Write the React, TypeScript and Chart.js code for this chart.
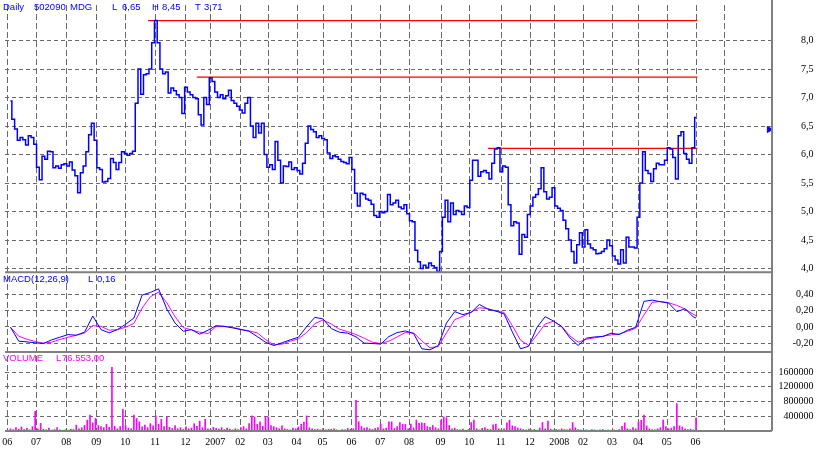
import React, { useEffect, useRef } from 'react';
import { Chart, registerables } from 'chart.js';

Chart.register(...registerables);

// ---- x axis: trading-day index, month starts ----
const X_MAX_DAY = 559.4;
const monthTickDays = [2, 23, 45, 67, 88, 110, 132, 150, 172, 192, 213, 232, 253, 274, 295, 318, 339, 362, 383, 401, 422, 443, 462, 483, 504, 525];
const monthTickLabels = ['06', '07', '08', '09', '10', '11', '12', '2007', '02', '03', '04', '05', '06', '07', '08', '09', '10', '11', '12', '2008', '02', '03', '04', '05', '06', ''];

// ---- y tick values ----
const priceTicks = [4.0, 4.5, 5.0, 5.5, 6.0, 6.5, 7.0, 7.5, 8.0];
const macdTicks = [-0.2, 0.0, 0.2, 0.4];
const volumeTicks = [400000, 800000, 1200000, 1600000];

// ---- price (closes, one value every 2 trading days from day 4) ----
const PRICE_FIRST_DAY = 4;
const PRICE_STEP = 2;
const priceCloses = [
  6.94, 6.62, 6.45, 6.25, 6.3, 6.26, 6.17, 6.33, 6.3, 6.18,
  5.78, 5.56, 5.97, 5.92, 6.06, 6.05, 5.77, 5.8, 5.76, 5.82,
  5.84, 5.8, 5.87, 5.73, 5.63, 5.33, 5.68, 5.8, 6.05, 6.35,
  6.55, 6.25, 5.77, 5.74, 5.52, 5.53, 5.58, 5.93, 5.86, 5.74,
  5.86, 6.05, 6.02, 5.99, 6.02, 6.06, 6.9, 7.5, 7.06, 7.4,
  7.42, 7.5, 7.96, 8.35, 7.96, 7.5, 7.42, 7.45, 7.08, 7.17,
  7.12, 7.05, 7.0, 6.72, 7.18, 7.1, 7.05, 7.0, 6.98, 6.7,
  6.52, 7.0, 6.88, 7.35, 7.28, 7.1, 7.0, 7.05, 6.98, 7.03,
  7.13, 6.95, 6.9, 6.85, 6.78, 6.73, 6.9, 7.0, 6.5, 6.3,
  6.55, 6.38, 6.55, 6.0, 5.78, 5.82, 5.74, 6.23, 5.9, 5.5,
  5.8, 5.79, 5.87, 5.74, 5.77, 5.72, 5.66, 5.85, 6.2, 6.5,
  6.44, 6.4, 6.3, 6.33, 6.28, 6.26, 6.03, 5.93, 5.98, 5.96,
  5.92, 5.88, 5.86, 5.84, 5.95, 5.74, 5.32, 5.1, 5.32, 5.3,
  5.22, 5.2, 5.13, 4.93, 4.9, 5.0, 4.98, 5.0, 5.3, 5.12,
  5.15, 5.2, 5.08, 5.05, 5.12, 4.96, 4.84, 4.82, 4.32, 4.12,
  4.0, 4.06, 4.02, 4.1, 4.05, 4.02, 3.95, 4.3, 4.9, 5.2,
  4.82, 5.15, 4.95, 5.02, 5.0, 4.95, 5.1, 5.07, 5.55, 5.9,
  5.9, 5.62, 5.7, 5.72, 5.68, 5.57, 5.85, 6.1, 6.12, 5.7,
  5.8, 5.78, 5.12, 4.75, 4.82, 4.8, 4.25, 4.6, 4.55, 4.95,
  5.1, 5.25, 5.3, 5.4, 5.77, 5.35, 5.22, 5.25, 5.42, 5.1,
  5.06, 5.02, 4.85, 4.7, 4.5, 4.3, 4.1, 4.42, 4.63, 4.38,
  4.68, 4.43, 4.36, 4.33, 4.26, 4.27, 4.3, 4.35, 4.5, 4.4,
  4.22, 4.15, 4.08, 4.33, 4.1, 4.55, 4.38, 4.38, 4.36, 4.9,
  5.5, 6.05, 5.72, 5.67, 5.53, 5.75, 5.85, 5.82, 5.82, 5.9,
  6.12, 6.1, 5.95, 5.57, 6.33, 6.4, 6.02, 5.92, 5.85, 6.12,
  6.65,
];

// ---- volume (same days as the price) ----
const volumes = [
  60000, 35000, 90000, 50000, 110000, 40000, 70000, 30000, 120000, 537000,
  60000, 206000, 45000, 30000, 80000, 25000, 40000, 90000, 35000, 20000,
  30000, 25000, 50000, 40000, 160000, 60000, 90000, 150000, 295000, 430000,
  220000, 340000, 150000, 120000, 90000, 180000, 100000, 1730000, 130000, 60000,
  120000, 590000, 150000, 80000, 60000, 430000, 340000, 250000, 110000, 160000,
  90000, 200000, 140000, 410000, 180000, 320000, 120000, 380000, 100000, 70000,
  150000, 60000, 90000, 40000, 110000, 60000, 80000, 200000, 130000, 270000,
  90000, 320000, 60000, 40000, 100000, 70000, 50000, 90000, 40000, 80000,
  50000, 30000, 60000, 40000, 90000, 120000, 60000, 200000, 410000, 380000,
  180000, 250000, 130000, 380000, 380000, 150000, 120000, 90000, 60000, 140000,
  60000, 40000, 30000, 80000, 60000, 110000, 180000, 240000, 410000, 90000,
  60000, 40000, 50000, 30000, 70000, 30000, 40000, 50000, 60000, 30000,
  20000, 40000, 30000, 70000, 50000, 60000, 830000, 250000, 120000, 80000,
  90000, 60000, 40000, 70000, 90000, 190000, 60000, 80000, 250000, 250000,
  70000, 120000, 230000, 180000, 180000, 60000, 190000, 80000, 300000, 210000,
  220000, 210000, 120000, 100000, 150000, 90000, 60000, 295000, 385000, 360000,
  150000, 60000, 80000, 40000, 30000, 50000, 20000, 40000, 230000, 295000,
  60000, 30000, 70000, 90000, 50000, 40000, 170000, 190000, 60000, 40000,
  60000, 220000, 295000, 140000, 120000, 80000, 60000, 40000, 30000, 50000,
  30000, 40000, 20000, 80000, 230000, 60000, 270000, 50000, 30000, 40000,
  30000, 60000, 40000, 30000, 60000, 230000, 90000, 40000, 30000, 20000,
  30000, 20000, 40000, 30000, 20000, 30000, 40000, 20000, 30000, 20000,
  30000, 20000, 40000, 130000, 220000, 60000, 40000, 90000, 60000, 250000,
  290000, 430000, 140000, 60000, 40000, 30000, 60000, 90000, 295000, 120000,
  60000, 80000, 120000, 742000, 140000, 110000, 60000, 40000, 50000, 30000,
  360000,
];

// ---- MACD(12,26,9), one value every 6 trading days from day 4 ----
const MACD_FIRST_DAY = 4;
const MACD_STEP = 6;
const MACD_LAST_DAY = 504;
const macdLine = [
  -0.004, -0.177, -0.186, -0.198, -0.206, -0.161, -0.128, -0.095, -0.103, -0.066,
  0.136, -0.033, -0.074, -0.033, 0.033, 0.111, 0.396, 0.429, 0.474, 0.223,
  0.049, -0.054, -0.033, -0.091, -0.041, 0.016, 0.008, -0.012, -0.033, -0.054,
  -0.12, -0.19, -0.231, -0.198, -0.161, -0.128, 0.004, 0.12, 0.099, -0.021,
  -0.066, -0.078, -0.124, -0.202, -0.206, -0.214, -0.12, -0.07, -0.05, -0.082,
  -0.272, -0.285, -0.231, 0.049, 0.19, 0.153, 0.181, 0.28, 0.223, 0.198,
  0.161, -0.062, -0.272, -0.239, -0.004, 0.128, 0.074, 0.004, -0.136, -0.231,
  -0.14, -0.124, -0.12, -0.078, -0.095, -0.041, -0.004, 0.318, 0.334, 0.313,
  0.297, 0.19, 0.227, 0.124, 0.111,
];
const signalLine = [
  -0.004, -0.115, -0.153, -0.181, -0.202, -0.19, -0.157, -0.128, -0.103, -0.074,
  0.016, 0.008, -0.041, -0.033, -0.004, 0.045, 0.235, 0.375, 0.433, 0.301,
  0.128, -0.008, -0.037, -0.066, -0.082, 0.004, 0.004, -0.004, -0.029, -0.049,
  -0.074, -0.157, -0.223, -0.214, -0.177, -0.148, -0.07, 0.041, 0.087, 0.037,
  -0.029, -0.058, -0.095, -0.14, -0.19, -0.206, -0.177, -0.124, -0.07, -0.074,
  -0.173, -0.26, -0.243, -0.074, 0.091, 0.132, 0.186, 0.239, 0.227, 0.198,
  0.181, 0.016, -0.165, -0.231, -0.099, 0.037, 0.07, 0.008, -0.111, -0.19,
  -0.153, -0.136, -0.115, -0.099, -0.087, -0.054, -0.016, 0.148, 0.305, 0.318,
  0.301, 0.268, 0.223, 0.157, 0.14,
];

// ---- horizontal resistance lines ----
const levelValues = [8.35, 7.36, 6.11];
const levelStartDays = [104.3, 139.9, 352.2];
const levelEndDay = 505;

// ---- last-price marker on the right ----
const markerDay = 557.3;
const markerValue = 6.44;

const fmtComma = (v: number, d: number) => v.toFixed(d).replace('.', ',');

const priceData = priceCloses.map((y, i) => ({ x: PRICE_FIRST_DAY + PRICE_STEP * i, y }));
const volumeData = volumes.map((y, i) => ({ x: PRICE_FIRST_DAY + PRICE_STEP * i, y }));
const macdDay = (i: number) => Math.min(MACD_FIRST_DAY + MACD_STEP * i, MACD_LAST_DAY);
const macdData = macdLine.map((y, i) => ({ x: macdDay(i), y }));
const signalData = signalLine.map((y, i) => ({ x: macdDay(i), y }));

const BLUE = '#0000ff';
const MAGENTA = '#ff00ff';
const GRID = '#6a6a6a';

const decorPlugin = {
  id: 'decor',
  afterDraw(chart: any) {
    const { ctx, chartArea } = chart;
    const sx = chart.scales.x;
    const sp = chart.scales.yPrice;
    const sm = chart.scales.yMacd;
    const sv = chart.scales.yVol;
    ctx.save();
    // panel frame
    ctx.strokeStyle = '#808080';
    ctx.lineWidth = 2;
    ctx.setLineDash([]);
    ctx.beginPath();
    ctx.moveTo(chartArea.right, 0);
    ctx.lineTo(chartArea.right, chartArea.bottom);
    for (const yy of [sm.top, sv.top, chartArea.bottom]) {
      ctx.moveTo(chartArea.left, yy);
      ctx.lineTo(chartArea.right, yy);
    }
    ctx.stroke();

    // right tick labels
    ctx.fillStyle = '#000';
    ctx.font = '10px "Liberation Serif", "Times New Roman", serif';
    ctx.textAlign = 'right';
    ctx.textBaseline = 'middle';
    for (const s of [sp, sm, sv]) {
      for (const t of s.ticks) {
        ctx.fillText(String(t.label), chart.width - 4.5, s.getPixelForValue(t.value));
      }
    }
    // bottom month labels
    ctx.textAlign = 'left';
    ctx.textBaseline = 'alphabetic';
    for (const t of sx.ticks) {
      if (t.label) ctx.fillText(String(t.label), sx.getPixelForValue(t.value) - 5.5, 444.5);
    }

    // panel captions
    ctx.font = '9.5px "Liberation Sans", Arial, sans-serif';
    ctx.fillStyle = BLUE;
    const head: [string, number][] = [
      ['Daily', 3], ['502090', 34], ['MDG', 70], ['L', 112], ['6,65', 122],
      ['H', 152], ['8,45', 162], ['T', 195], ['3,71', 204],
    ];
    for (const [txt, x] of head) ctx.fillText(txt, x, 9.5);
    const macdTop = sm.top;
    ctx.fillText('MACD(12,26,9)', 3, macdTop + 10);
    ctx.fillText('L', 88, macdTop + 10);
    ctx.fillText('0,16', 97, macdTop + 10);
    ctx.fillStyle = MAGENTA;
    const volTop = sv.top;
    ctx.fillText('VOLUME', 3, volTop + 9.5);
    ctx.fillText('L', 56, volTop + 9.5);
    ctx.fillText('76.553,00', 62, volTop + 9.5);
    ctx.restore();
  },
};

const yCommon = (weight: number) => ({
  type: 'linear' as const,
  position: 'right' as const,
  stack: 'panels',
  stackWeight: weight,
  offset: false,
  grid: { color: GRID, lineWidth: 1, drawTicks: false },
  border: { display: false, dash: [4, 3] },
  ticks: { display: false },
  afterFit: (s: any) => {
    s.width = 42;
    s.paddingTop = 0;
    s.paddingBottom = 0;
  },
});

export default function App() {
  const ref = useRef<HTMLCanvasElement | null>(null);
  useEffect(() => {
    if (!ref.current) return;
    const chart = new Chart(ref.current, {
      type: 'line',
      data: {
        datasets: [
          {
            label: 'MDG',
            data: priceData,
            yAxisID: 'yPrice',
            borderColor: BLUE,
            borderWidth: 1.5,
            stepped: 'middle',
            pointRadius: 0,
            fill: false,
          },
          ...levelValues.map((lv, i) => ({
            label: 'level' + i,
            data: [
              { x: levelStartDays[i], y: lv },
              { x: levelEndDay, y: lv },
            ],
            yAxisID: 'yPrice',
            borderColor: '#ff0000',
            borderWidth: 1.3,
            pointRadius: 0,
            fill: false,
          })),
          {
            label: 'last',
            data: [{ x: markerDay, y: markerValue }],
            yAxisID: 'yPrice',
            showLine: false,
            pointStyle: 'triangle',
            rotation: 90,
            pointRadius: 3.5,
            backgroundColor: BLUE,
            borderColor: BLUE,
            borderWidth: 1,
          },
          {
            label: 'MACD',
            data: macdData,
            yAxisID: 'yMacd',
            borderColor: BLUE,
            borderWidth: 1,
            pointRadius: 0,
            fill: false,
          },
          {
            label: 'Signal',
            data: signalData,
            yAxisID: 'yMacd',
            borderColor: MAGENTA,
            borderWidth: 1,
            pointRadius: 0,
            fill: false,
          },
          {
            type: 'bar',
            label: 'Volume',
            data: volumeData,
            yAxisID: 'yVol',
            backgroundColor: MAGENTA,
            borderWidth: 0,
            barThickness: 1,
          } as any,
        ],
      },
      options: {
        responsive: false,
        animation: false,
        events: [],
        layout: { padding: { left: 0, top: 0, right: 4, bottom: 0 } },
        plugins: {
          legend: { display: false },
          tooltip: { enabled: false },
          title: { display: false },
        },
        scales: {
          x: {
            type: 'linear',
            min: 0,
            max: X_MAX_DAY,
            offset: false,
            position: 'bottom',
            grid: { color: GRID, lineWidth: 1, drawTicks: false, offset: false },
            border: { display: false, dash: [6, 3] },
            ticks: {
              display: false,
              autoSkip: false,
              callback: (_v: any, i: number) => monthTickLabels[i],
            },
            afterBuildTicks: (s: any) => {
              s.ticks = monthTickDays.map((value) => ({ value }));
            },
            afterFit: (s: any) => {
              s.height = 18;
              s.paddingLeft = 0;
              s.paddingRight = 0;
            },
          },
          yPrice: {
            ...yCommon(270.5),
            min: 3.934,
            max: 8.624,
            ticks: { display: false, callback: (v: any) => fmtComma(Number(v), 1) },
            afterBuildTicks: (s: any) => {
              s.ticks = priceTicks.map((value) => ({ value }));
            },
          },
          yMacd: {
            ...yCommon(80.5),
            min: -0.311,
            max: 0.679,
            ticks: { display: false, callback: (v: any) => fmtComma(Number(v), 2) },
            afterBuildTicks: (s: any) => {
              s.ticks = macdTicks.map((value) => ({ value }));
            },
          },
          yVol: {
            ...yCommon(80),
            min: 0,
            max: 2148000,
            ticks: { display: false, callback: (v: any) => String(Math.round(Number(v))) },
            afterBuildTicks: (s: any) => {
              s.ticks = volumeTicks.map((value) => ({ value }));
            },
          },
        } as any,
      },
      plugins: [decorPlugin],
    } as any);
    return () => chart.destroy();
  }, []);

  return (
    <div style={{ position: 'fixed', left: 0, top: 0, width: 818, height: 449, background: '#ffffff' }}>
      <canvas ref={ref} width={818} height={449} style={{ display: 'block' }} />
    </div>
  );
}
